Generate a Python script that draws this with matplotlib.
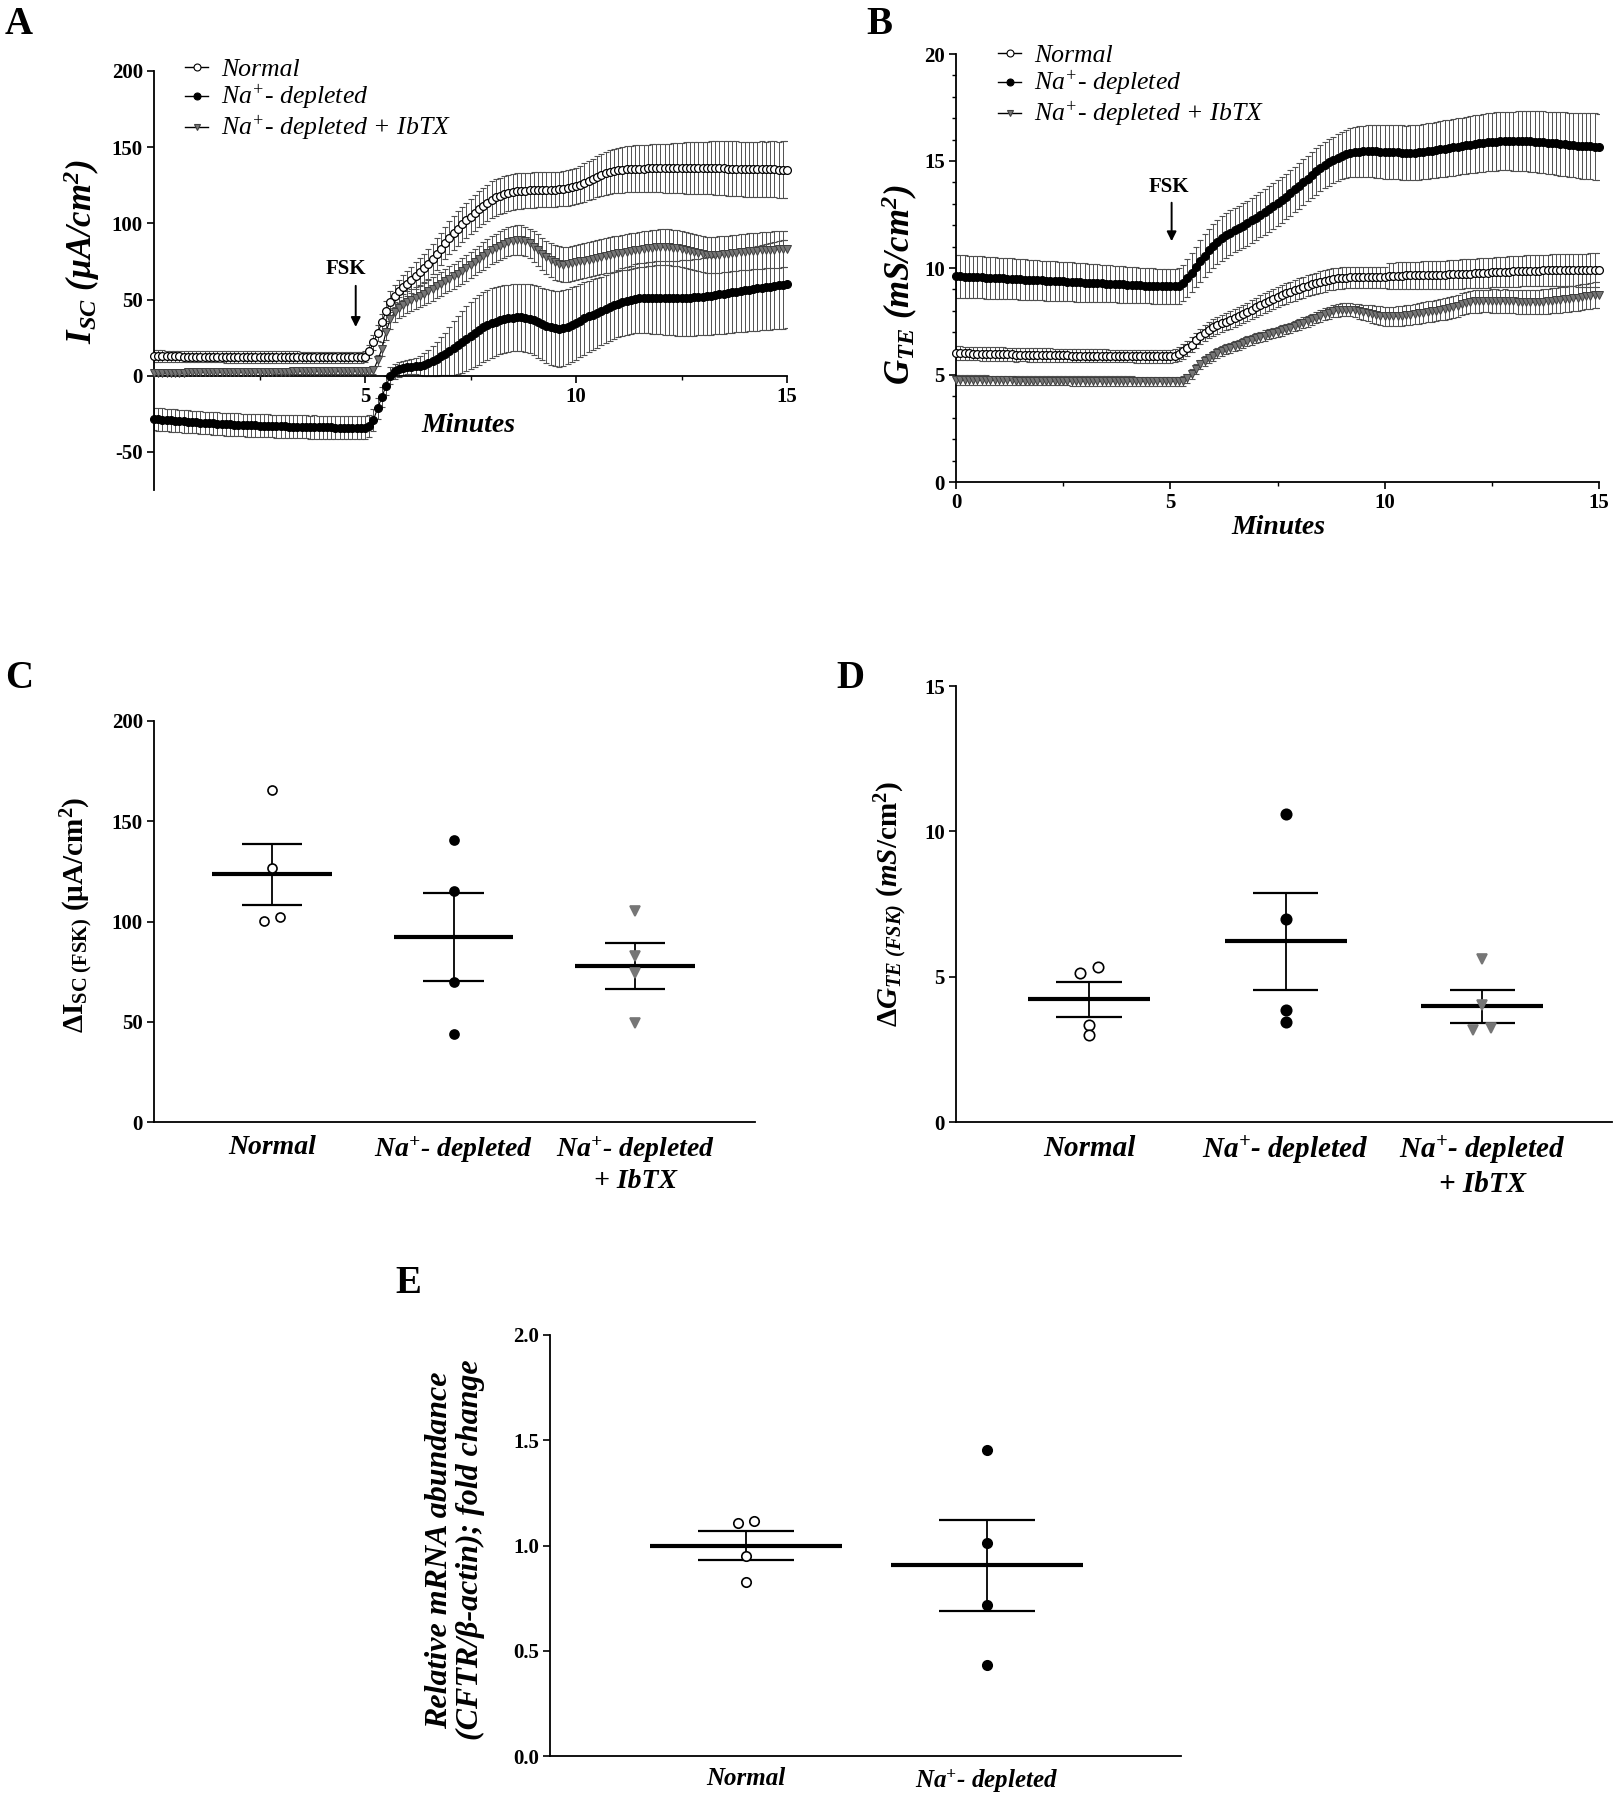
import numpy as np
import matplotlib
matplotlib.use('Agg')
import matplotlib.pyplot as plt
from matplotlib.lines import Line2D

plt.rcParams.update({
    'font.family': ['Liberation Serif', 'DejaVu Serif'],
    'mathtext.fontset': 'custom',
    'mathtext.rm': 'Liberation Serif',
    'mathtext.it': 'Liberation Serif:italic',
    'mathtext.bf': 'Liberation Serif:bold',
    'mathtext.bfit': 'Liberation Serif:italic:bold',
    'mathtext.default': 'regular',
    'axes.linewidth': 1.2,
    'axes.unicode_minus': False,
})

# ---------------- data: time courses (one value every 0.1 min, 0..15 min) ----------------
minutes = np.arange(151) / 10.0
series_names = ['Normal', 'Na$^{+}$- depleted', 'Na$^{+}$- depleted + IbTX']

# Panel A: Isc (uA/cm2)
isc_normal = [
    12.8, 12.8, 12.8, 12.7, 12.7, 12.7, 12.7, 12.6, 12.6, 12.6,
    12.6, 12.6, 12.5, 12.5, 12.5, 12.5, 12.5, 12.4, 12.4, 12.4,
    12.4, 12.4, 12.4, 12.3, 12.3, 12.3, 12.3, 12.3, 12.3, 12.2,
    12.2, 12.2, 12.2, 12.2, 12.2, 12.1, 12.1, 12.1, 12.1, 12.1,
    12.1, 12.1, 12.0, 12.0, 12.0, 12.0, 12.0, 12.0, 12.0, 12.0,
    12.5, 16.0, 22.0, 28.0, 35.0, 42.5, 48.5, 52.5, 55.5, 58.0,
    60.5, 63.0, 65.5, 68.0, 70.5, 73.5, 76.5, 80.0, 83.5, 87.0,
    90.5, 93.5, 96.5, 99.5, 102.0, 104.5, 107.0, 109.5, 111.5, 113.5,
    115.5, 117.0, 118.0, 119.0, 120.0, 120.5, 121.0, 121.3, 121.5, 121.7,
    122.0, 122.0, 122.0, 122.0, 122.0, 122.2, 122.5, 122.8, 123.2, 123.8,
    124.5, 125.5, 126.8, 128.0, 129.3, 130.5, 131.7, 132.8, 133.6, 134.3,
    134.8, 135.2, 135.5, 135.7, 135.9, 136.0, 136.0, 136.1, 136.1, 136.1,
    136.2, 136.2, 136.2, 136.3, 136.3, 136.4, 136.4, 136.5, 136.5, 136.5,
    136.5, 136.4, 136.4, 136.3, 136.2, 136.1, 136.0, 135.9, 135.8, 135.7,
    135.6, 135.6, 135.5, 135.5, 135.5, 135.4, 135.4, 135.4, 135.3, 135.3,
    135.3]
isc_normal_sem = [
    3.8, 3.8, 3.8, 3.8, 3.8, 3.8, 3.8, 3.8, 3.8, 3.8,
    3.8, 3.8, 3.8, 3.8, 3.8, 3.8, 3.8, 3.8, 3.8, 3.8,
    3.8, 3.8, 3.8, 3.8, 3.8, 3.8, 3.8, 3.8, 3.8, 3.8,
    3.8, 3.8, 3.8, 3.8, 3.8, 3.8, 3.8, 3.8, 3.8, 3.8,
    3.8, 3.8, 3.8, 3.8, 3.8, 3.8, 3.8, 3.8, 3.8, 3.8,
    3.8, 4.2, 4.8, 5.3, 5.8, 6.3, 6.8, 7.2, 7.6, 8.0,
    8.3, 8.6, 8.9, 9.2, 9.5, 9.8, 10.0, 10.3, 10.5, 10.7,
    10.9, 11.1, 11.3, 11.5, 11.6, 11.7, 11.8, 11.9, 12.0, 12.0,
    12.0, 12.0, 12.0, 11.9, 11.9, 11.8, 11.8, 11.7, 11.7, 11.6,
    11.6, 11.5, 11.5, 11.4, 11.4, 11.4, 11.4, 11.5, 11.6, 11.8,
    12.0, 12.3, 12.6, 12.9, 13.2, 13.5, 13.8, 14.1, 14.4, 14.6,
    14.8, 15.0, 15.1, 15.2, 15.3, 15.4, 15.5, 15.6, 15.7, 15.8,
    15.9, 16.0, 16.2, 16.3, 16.5, 16.6, 16.8, 16.9, 17.0, 17.1,
    17.2, 17.3, 17.4, 17.5, 17.6, 17.7, 17.8, 17.9, 18.0, 18.0,
    18.1, 18.1, 18.2, 18.2, 18.3, 18.3, 18.4, 18.4, 18.4, 18.5,
    18.5]
isc_nadep = [
    -28.5, -28.7, -28.9, -29.1, -29.3, -29.5, -29.7, -29.9, -30.1, -30.3,
    -30.5, -30.7, -30.9, -31.1, -31.3, -31.5, -31.7, -31.9, -32.0, -32.1,
    -32.2, -32.3, -32.4, -32.5, -32.6, -32.7, -32.8, -32.9, -33.0, -33.1,
    -33.2, -33.3, -33.4, -33.5, -33.5, -33.6, -33.6, -33.7, -33.7, -33.8,
    -33.8, -33.9, -33.9, -34.0, -34.0, -34.1, -34.1, -34.2, -34.2, -34.2,
    -34.0, -33.0, -28.8, -21.5, -14.0, -6.5, 0.0, 2.8, 4.2, 5.0,
    5.7, 6.0, 6.3, 6.7, 7.3, 8.6, 9.8, 11.2, 12.8, 14.5,
    16.3, 18.2, 20.2, 22.2, 24.2, 26.2, 28.2, 30.0, 31.8, 33.3,
    34.5, 35.5, 36.4, 37.1, 37.6, 38.0, 38.3, 38.3, 38.0, 37.4,
    36.5, 35.3, 34.0, 32.8, 31.8, 31.0, 30.6, 31.2, 32.2, 33.5,
    34.8, 36.2, 37.6, 38.9, 40.1, 41.3, 42.6, 43.9, 45.1, 46.3,
    47.4, 48.4, 49.2, 49.9, 50.5, 50.9, 51.2, 51.3, 51.3, 51.2,
    51.2, 51.1, 51.1, 51.0, 51.0, 51.0, 51.1, 51.2, 51.4, 51.6,
    51.9, 52.2, 52.6, 53.0, 53.4, 53.8, 54.3, 54.7, 55.2, 55.7,
    56.1, 56.5, 56.9, 57.3, 57.7, 58.1, 58.5, 59.0, 59.4, 59.8,
    60.3]
isc_nadep_sem = [
    7.4, 7.4, 7.4, 7.4, 7.4, 7.4, 7.4, 7.4, 7.4, 7.4,
    7.4, 7.4, 7.4, 7.4, 7.4, 7.5, 7.5, 7.5, 7.5, 7.5,
    7.5, 7.5, 7.5, 7.5, 7.5, 7.5, 7.5, 7.5, 7.5, 7.5,
    7.5, 7.5, 7.5, 7.5, 7.5, 7.5, 7.5, 7.5, 7.6, 7.6,
    7.6, 7.6, 7.6, 7.6, 7.6, 7.6, 7.6, 7.6, 7.6, 7.6,
    7.6, 7.5, 7.2, 6.8, 6.4, 6.0, 5.6, 5.2, 4.9, 4.7,
    4.6, 4.8, 5.4, 6.3, 7.4, 8.6, 9.9, 11.2, 12.5, 13.8,
    16.0, 17.5, 19.0, 20.3, 21.3, 22.0, 22.5, 22.8, 22.9, 22.9,
    22.8, 22.6, 22.4, 22.2, 22.0, 21.9, 21.9, 22.0, 22.3, 22.6,
    23.0, 23.4, 23.8, 24.2, 24.5, 24.7, 24.8, 24.8, 24.7, 24.5,
    24.3, 24.0, 23.7, 23.4, 23.1, 22.8, 22.5, 22.3, 22.1, 22.0,
    22.0, 22.1, 22.2, 22.4, 22.6, 22.8, 23.0, 23.3, 23.6, 23.9,
    24.1, 24.3, 24.4, 24.5, 24.6, 24.7, 24.8, 24.9, 25.0, 25.1,
    25.2, 25.4, 25.6, 25.8, 26.0, 26.2, 26.4, 26.6, 26.8, 27.0,
    27.2, 27.4, 27.6, 27.8, 28.0, 28.2, 28.4, 28.6, 28.8, 29.0,
    29.1]
isc_ibtx = [
    2.0, 2.0, 2.0, 2.0, 2.1, 2.1, 2.1, 2.1, 2.2, 2.2,
    2.2, 2.2, 2.2, 2.3, 2.3, 2.3, 2.3, 2.4, 2.4, 2.4,
    2.4, 2.5, 2.5, 2.5, 2.5, 2.6, 2.6, 2.6, 2.6, 2.7,
    2.7, 2.7, 2.7, 2.8, 2.8, 2.8, 2.8, 2.9, 2.9, 2.9,
    2.9, 3.0, 3.0, 3.0, 3.0, 3.1, 3.1, 3.1, 3.2, 3.2,
    3.2, 3.3, 3.8, 10.0, 17.5, 29.0, 37.0, 41.8, 44.5, 46.5,
    48.2, 49.6, 51.0, 52.4, 53.8, 55.4, 57.0, 58.7, 60.4, 62.0,
    63.6, 65.2, 66.9, 68.7, 70.6, 72.6, 74.6, 76.6, 78.6, 80.6,
    82.4, 84.0, 85.4, 86.7, 87.8, 88.6, 89.0, 89.0, 88.2, 86.8,
    84.8, 82.4, 80.0, 77.8, 75.9, 74.4, 73.4, 73.0, 73.1, 73.7,
    74.4, 75.0, 75.6, 76.2, 76.8, 77.4, 78.0, 78.6, 79.2, 79.8,
    80.3, 80.8, 81.3, 81.8, 82.3, 82.8, 83.2, 83.6, 83.9, 84.2,
    84.3, 84.4, 84.3, 84.0, 83.6, 83.0, 82.3, 81.6, 81.0, 80.4,
    79.9, 79.5, 79.3, 79.3, 79.5, 79.8, 80.1, 80.4, 80.7, 81.0,
    81.3, 81.6, 81.8, 82.0, 82.2, 82.4, 82.6, 82.8, 83.0, 83.1,
    83.2]
isc_ibtx_sem = [
    1.8, 1.8, 1.8, 1.8, 1.8, 1.8, 1.8, 1.8, 1.8, 1.8,
    1.8, 1.8, 1.8, 1.8, 1.8, 1.8, 1.8, 1.8, 1.8, 1.8,
    1.8, 1.8, 1.8, 1.8, 1.8, 1.8, 1.8, 1.8, 1.8, 1.8,
    1.8, 1.8, 1.8, 1.8, 1.8, 1.8, 1.8, 1.8, 1.8, 1.8,
    1.8, 1.8, 1.8, 1.8, 1.8, 1.8, 1.8, 1.8, 1.9, 1.9,
    1.9, 2.0, 2.5, 3.5, 4.5, 5.5, 6.2, 6.6, 6.9, 7.0,
    7.1, 7.2, 7.3, 7.4, 7.5, 7.6, 7.7, 7.8, 7.9, 8.0,
    8.1, 8.2, 8.3, 8.4, 8.5, 8.6, 8.7, 8.8, 8.9, 9.0,
    9.1, 9.2, 9.3, 9.4, 9.5, 9.5, 9.6, 9.6, 9.7, 9.8,
    10.0, 10.3, 10.6, 10.9, 11.2, 11.4, 11.5, 11.5, 11.5, 11.5,
    11.5, 11.5, 11.5, 11.5, 11.5, 11.5, 11.5, 11.5, 11.6, 11.6,
    11.6, 11.6, 11.6, 11.6, 11.6, 11.6, 11.7, 11.7, 11.7, 11.7,
    11.7, 11.7, 11.7, 11.7, 11.8, 11.8, 11.8, 11.8, 11.8, 11.8,
    11.8, 11.8, 11.8, 11.9, 11.9, 11.9, 11.9, 11.9, 11.9, 11.9,
    11.9, 11.9, 12.0, 12.0, 12.0, 12.0, 12.0, 12.0, 12.0, 12.0,
    12.0]

# Panel B: GTE (mS/cm2)
gte_normal = [
    6.02, 6.02, 6.01, 6.01, 6.00, 6.00, 5.99, 5.99, 5.98, 5.98,
    5.97, 5.97, 5.96, 5.96, 5.95, 5.95, 5.95, 5.94, 5.94, 5.94,
    5.93, 5.93, 5.93, 5.92, 5.92, 5.92, 5.92, 5.91, 5.91, 5.91,
    5.91, 5.90, 5.90, 5.90, 5.90, 5.90, 5.89, 5.89, 5.89, 5.89,
    5.89, 5.89, 5.88, 5.88, 5.88, 5.88, 5.88, 5.88, 5.88, 5.88,
    5.88, 5.90, 5.98, 6.10, 6.25, 6.42, 6.62, 6.80, 6.96, 7.10,
    7.22, 7.32, 7.41, 7.50, 7.58, 7.67, 7.76, 7.85, 7.95, 8.05,
    8.16, 8.27, 8.37, 8.47, 8.56, 8.65, 8.73, 8.81, 8.88, 8.95,
    9.03, 9.10, 9.17, 9.23, 9.29, 9.35, 9.40, 9.45, 9.49, 9.52,
    9.54, 9.55, 9.56, 9.56, 9.56, 9.56, 9.56, 9.56, 9.56, 9.56,
    9.57, 9.62, 9.63, 9.64, 9.64, 9.65, 9.65, 9.66, 9.66, 9.67,
    9.67, 9.68, 9.68, 9.69, 9.69, 9.70, 9.70, 9.71, 9.72, 9.73,
    9.74, 9.75, 9.76, 9.77, 9.78, 9.79, 9.80, 9.81, 9.82, 9.83,
    9.84, 9.85, 9.86, 9.87, 9.87, 9.88, 9.88, 9.89, 9.89, 9.89,
    9.89, 9.90, 9.90, 9.90, 9.90, 9.90, 9.90, 9.90, 9.90, 9.90,
    9.90]
gte_normal_sem = [
    0.32, 0.32, 0.32, 0.32, 0.32, 0.32, 0.32, 0.32, 0.32, 0.32,
    0.32, 0.32, 0.32, 0.32, 0.32, 0.31, 0.31, 0.31, 0.31, 0.31,
    0.31, 0.31, 0.31, 0.31, 0.31, 0.31, 0.31, 0.31, 0.31, 0.31,
    0.31, 0.31, 0.31, 0.30, 0.30, 0.30, 0.30, 0.30, 0.30, 0.30,
    0.30, 0.30, 0.30, 0.30, 0.30, 0.30, 0.30, 0.30, 0.30, 0.30,
    0.30, 0.31, 0.32, 0.33, 0.34, 0.35, 0.36, 0.37, 0.38, 0.38,
    0.39, 0.40, 0.40, 0.41, 0.41, 0.42, 0.42, 0.43, 0.43, 0.44,
    0.44, 0.45, 0.45, 0.46, 0.46, 0.47, 0.47, 0.47, 0.48, 0.48,
    0.48, 0.49, 0.49, 0.49, 0.49, 0.50, 0.50, 0.50, 0.50, 0.50,
    0.50, 0.50, 0.50, 0.50, 0.50, 0.50, 0.50, 0.50, 0.50, 0.50,
    0.50, 0.62, 0.62, 0.63, 0.63, 0.63, 0.64, 0.64, 0.64, 0.65,
    0.65, 0.65, 0.66, 0.66, 0.66, 0.67, 0.67, 0.67, 0.68, 0.68,
    0.68, 0.69, 0.69, 0.69, 0.70, 0.70, 0.70, 0.71, 0.71, 0.71,
    0.72, 0.72, 0.72, 0.73, 0.73, 0.73, 0.74, 0.74, 0.74, 0.75,
    0.75, 0.75, 0.76, 0.76, 0.76, 0.77, 0.77, 0.77, 0.78, 0.78,
    0.78]
gte_nadep = [
    9.62, 9.61, 9.60, 9.59, 9.58, 9.57, 9.56, 9.55, 9.54, 9.53,
    9.52, 9.51, 9.50, 9.49, 9.48, 9.47, 9.46, 9.45, 9.44, 9.43,
    9.42, 9.41, 9.40, 9.39, 9.38, 9.37, 9.36, 9.35, 9.34, 9.33,
    9.32, 9.31, 9.30, 9.29, 9.28, 9.27, 9.26, 9.25, 9.24, 9.23,
    9.22, 9.21, 9.20, 9.19, 9.18, 9.17, 9.16, 9.15, 9.15, 9.14,
    9.14, 9.14, 9.16, 9.30, 9.52, 9.78, 10.05, 10.32, 10.58, 10.82,
    11.04, 11.22, 11.38, 11.52, 11.65, 11.77, 11.88, 11.98, 12.10, 12.22,
    12.35, 12.48, 12.61, 12.75, 12.89, 13.03, 13.18, 13.34, 13.50, 13.67,
    13.84, 14.01, 14.18, 14.35, 14.51, 14.66, 14.80, 14.93, 15.05, 15.16,
    15.25, 15.32, 15.38, 15.42, 15.44, 15.45, 15.46, 15.46, 15.45, 15.44,
    15.43, 15.42, 15.41, 15.40, 15.39, 15.38, 15.38, 15.39, 15.41, 15.43,
    15.46, 15.49, 15.52, 15.55, 15.58, 15.61, 15.64, 15.67, 15.70, 15.73,
    15.76, 15.79, 15.82, 15.85, 15.87, 15.89, 15.91, 15.92, 15.93, 15.93,
    15.93, 15.93, 15.93, 15.93, 15.92, 15.91, 15.90, 15.88, 15.86, 15.84,
    15.82, 15.80, 15.78, 15.76, 15.74, 15.72, 15.70, 15.69, 15.68, 15.67,
    15.66]
gte_nadep_sem = [
    1.00, 1.00, 0.99, 0.99, 0.99, 0.98, 0.98, 0.98, 0.97, 0.97,
    0.97, 0.96, 0.96, 0.96, 0.95, 0.95, 0.95, 0.94, 0.94, 0.94,
    0.93, 0.93, 0.93, 0.92, 0.92, 0.92, 0.91, 0.91, 0.91, 0.90,
    0.90, 0.89, 0.89, 0.88, 0.88, 0.87, 0.87, 0.86, 0.86, 0.85,
    0.85, 0.84, 0.84, 0.83, 0.83, 0.82, 0.82, 0.81, 0.81, 0.80,
    0.80, 0.80, 0.82, 0.85, 0.88, 0.92, 0.95, 0.98, 1.00, 1.02,
    1.03, 1.03, 1.03, 1.04, 1.04, 1.04, 1.04, 1.05, 1.05, 1.05,
    1.05, 1.05, 1.06, 1.06, 1.06, 1.06, 1.06, 1.07, 1.07, 1.07,
    1.07, 1.07, 1.07, 1.08, 1.08, 1.08, 1.08, 1.08, 1.08, 1.08,
    1.10, 1.12, 1.15, 1.17, 1.19, 1.20, 1.21, 1.22, 1.23, 1.24,
    1.25, 1.25, 1.26, 1.26, 1.27, 1.27, 1.28, 1.28, 1.29, 1.29,
    1.30, 1.30, 1.31, 1.31, 1.32, 1.32, 1.33, 1.33, 1.33, 1.34,
    1.34, 1.34, 1.35, 1.35, 1.35, 1.36, 1.36, 1.36, 1.37, 1.37,
    1.38, 1.39, 1.40, 1.41, 1.42, 1.43, 1.44, 1.44, 1.45, 1.46,
    1.47, 1.48, 1.49, 1.50, 1.51, 1.51, 1.52, 1.53, 1.54, 1.55,
    1.55]
gte_ibtx = [
    4.77, 4.77, 4.77, 4.76, 4.76, 4.76, 4.76, 4.76, 4.75, 4.75,
    4.75, 4.75, 4.75, 4.75, 4.74, 4.74, 4.74, 4.74, 4.74, 4.74,
    4.73, 4.73, 4.73, 4.73, 4.73, 4.73, 4.73, 4.72, 4.72, 4.72,
    4.72, 4.72, 4.72, 4.72, 4.71, 4.71, 4.71, 4.71, 4.71, 4.71,
    4.71, 4.71, 4.70, 4.70, 4.70, 4.70, 4.70, 4.70, 4.70, 4.70,
    4.70, 4.70, 4.70, 4.72, 4.85, 5.05, 5.28, 5.50, 5.65, 5.78,
    5.90, 6.02, 6.12, 6.20, 6.27, 6.35, 6.42, 6.50, 6.57, 6.65,
    6.72, 6.78, 6.84, 6.90, 6.96, 7.02, 7.08, 7.14, 7.21, 7.28,
    7.36, 7.44, 7.52, 7.60, 7.68, 7.76, 7.84, 7.92, 7.98, 8.02,
    8.05, 8.06, 8.05, 8.02, 7.98, 7.93, 7.89, 7.85, 7.81, 7.77,
    7.75, 7.74, 7.74, 7.75, 7.77, 7.79, 7.81, 7.84, 7.88, 7.92,
    7.95, 7.98, 8.01, 8.05, 8.09, 8.13, 8.18, 8.24, 8.30, 8.36,
    8.42, 8.44, 8.45, 8.46, 8.46, 8.46, 8.46, 8.45, 8.45, 8.44,
    8.44, 8.43, 8.42, 8.41, 8.40, 8.40, 8.41, 8.43, 8.45, 8.47,
    8.49, 8.51, 8.53, 8.55, 8.58, 8.61, 8.64, 8.67, 8.70, 8.73,
    8.75]
gte_ibtx_sem = [
    0.22, 0.22, 0.22, 0.22, 0.22, 0.22, 0.22, 0.22, 0.22, 0.22,
    0.22, 0.22, 0.22, 0.22, 0.22, 0.22, 0.22, 0.22, 0.22, 0.22,
    0.22, 0.22, 0.22, 0.22, 0.22, 0.22, 0.22, 0.22, 0.22, 0.22,
    0.22, 0.22, 0.22, 0.22, 0.22, 0.22, 0.22, 0.22, 0.22, 0.22,
    0.22, 0.22, 0.22, 0.22, 0.22, 0.22, 0.22, 0.22, 0.22, 0.22,
    0.22, 0.22, 0.22, 0.22, 0.22, 0.22, 0.22, 0.22, 0.22, 0.22,
    0.23, 0.23, 0.23, 0.23, 0.23, 0.23, 0.23, 0.23, 0.23, 0.23,
    0.24, 0.24, 0.24, 0.24, 0.24, 0.24, 0.24, 0.24, 0.24, 0.24,
    0.25, 0.25, 0.26, 0.26, 0.27, 0.27, 0.28, 0.28, 0.29, 0.29,
    0.30, 0.30, 0.31, 0.32, 0.34, 0.36, 0.38, 0.40, 0.42, 0.44,
    0.45, 0.45, 0.46, 0.46, 0.47, 0.47, 0.47, 0.48, 0.48, 0.48,
    0.49, 0.49, 0.49, 0.50, 0.50, 0.50, 0.51, 0.51, 0.51, 0.52,
    0.52, 0.52, 0.53, 0.53, 0.53, 0.54, 0.54, 0.54, 0.55, 0.55,
    0.55, 0.56, 0.56, 0.56, 0.57, 0.57, 0.57, 0.58, 0.58, 0.58,
    0.58, 0.59, 0.59, 0.59, 0.59, 0.60, 0.60, 0.60, 0.60, 0.60,
    0.60]

# ---------------- data: individual experiments ----------------
group_labels3 = ['Normal', 'Na$^{+}$- depleted', 'Na$^{+}$- depleted\n+ IbTX']
group_labels2 = ['Normal', 'Na$^{+}$- depleted']

# Panel C: delta Isc(FSK)
c_normal = [165.4, 126.6, 102.4, 100.4]
c_nadep = [140.5, 115.3, 69.9, 43.9]
c_ibtx = [105.2, 82.9, 74.3, 49.6]
c_mean = [123.5, 92.3, 77.7]
c_sem = [15.2, 21.8, 11.4]

# Panel D: delta GTE(FSK)
d_normal = [5.14, 5.33, 3.34, 3.01]
d_nadep = [10.60, 6.97, 3.85, 3.44]
d_ibtx = [5.62, 4.03, 3.16, 3.23]
d_mean = [4.22, 6.21, 3.98]
d_sem = [0.61, 1.67, 0.57]

# Panel E: relative CFTR mRNA
e_normal = [1.108, 1.118, 0.951, 0.825]
e_nadep = [1.456, 1.010, 0.716, 0.433]
e_mean = [1.000, 0.905]
e_sem = [0.070, 0.218]

# horizontal spread of overlapping dots (category units)
c_jitter = [[0, 0, 0.045, -0.045], [0, 0, 0, 0], [0, 0, 0, 0]]
d_jitter = [[-0.045, 0.045, 0, 0], [0, 0, 0, 0], [0, 0, -0.045, 0.045]]
e_jitter = [[-0.035, 0.035, 0, 0], [0, 0, 0, 0]]

# ---------------- styles ----------------
GRAY = '#767676'
styles = [
    dict(marker='o', mfc='white', mec='black', ms=5.6, mew=0.9),
    dict(marker='o', mfc='black', mec='black', ms=5.6, mew=0.9),
    dict(marker='v', mfc=GRAY, mec='#3f3f3f', ms=6.4, mew=0.7),
]

W, H = 1616, 1800
fig = plt.figure(figsize=(W / 100, H / 100), dpi=100)


def add_axes(l, r, t, b):
    return fig.add_axes([l / W, 1 - b / H, (r - l) / W, (b - t) / H])


def style_axes(ax):
    for s in ['top', 'right']:
        ax.spines[s].set_visible(False)
    for s in ['left', 'bottom']:
        ax.spines[s].set_linewidth(1.3)
    ax.tick_params(which='major', length=5, width=1.2, labelsize=15, pad=3)
    ax.tick_params(which='minor', length=3, width=1.0)
    for lab in ax.get_xticklabels() + ax.get_yticklabels():
        lab.set_fontweight('bold')


def time_panel(ax, t, means, sems):
    order = [1, 2, 0]
    for k in order:
        ax.errorbar(t, means[k], yerr=sems[k], fmt='none', ecolor='#505050',
                    elinewidth=0.7, capsize=2.4, capthick=0.8, zorder=2)
    for k in order:
        ax.plot(t, means[k], color='black', lw=0.8, zorder=3,
                clip_on=False, **styles[k])


def legend(ax, x, y):
    handles = [Line2D([0], [0], color='black', lw=1.0,
                      marker=st['marker'], mfc=st['mfc'], mec=st['mec'],
                      ms=5, mew=0.8) for st in styles]
    ax.legend(handles, series_names, loc='upper left',
              bbox_to_anchor=(x / W, 1 - y / H), bbox_transform=fig.transFigure,
              frameon=False, prop=dict(style='italic', size=18.5),
              handlelength=0.9, handletextpad=0.5, labelspacing=0.08,
              borderpad=0, borderaxespad=0)


# ---------------- Panel A ----------------
axA = add_axes(154, 787, 71, 490)
time_panel(axA, minutes, [isc_normal, isc_nadep, isc_ibtx],
           [isc_normal_sem, isc_nadep_sem, isc_ibtx_sem])
axA.set_xlim(0, 15)
axA.set_ylim(-75, 200)
axA.spines['bottom'].set_position(('data', 0))
axA.set_xticks([5, 10, 15])
axA.set_xticks([2.5, 7.5, 12.5], minor=True)
axA.set_yticks([-50, 0, 50, 100, 150, 200])
style_axes(axA)
axA.text(7.44, -32.7, 'Minutes', ha='center', va='center', fontsize=20,
         fontweight='bold', style='italic')
axA.annotate('', xy=(4.78, 32), xytext=(4.78, 59),
             arrowprops=dict(arrowstyle='-|>', lw=1.4, color='black',
                             mutation_scale=14, shrinkA=0, shrinkB=0))
axA.text(4.55, 70, 'FSK', ha='center', va='center', fontsize=15, fontweight='bold')
legend(axA, 185, 58)

# ---------------- Panel B ----------------
axB = add_axes(956, 1599, 54, 482)
time_panel(axB, minutes, [gte_normal, gte_nadep, gte_ibtx],
           [gte_normal_sem, gte_nadep_sem, gte_ibtx_sem])
axB.set_xlim(0, 15)
axB.set_ylim(0, 20)
axB.set_xticks([0, 5, 10, 15])
axB.set_xticks([2.5, 7.5, 12.5], minor=True)
axB.set_yticks([0, 5, 10, 15, 20])
axB.set_yticks(np.arange(0, 21, 1), minor=True)
style_axes(axB)
axB.annotate('', xy=(5.03, 11.25), xytext=(5.03, 13.05),
             arrowprops=dict(arrowstyle='-|>', lw=1.4, color='black',
                             mutation_scale=14, shrinkA=0, shrinkB=0))
axB.text(4.96, 13.8, 'FSK', ha='center', va='center', fontsize=15, fontweight='bold')
legend(axB, 998, 44)


# ---------------- dot plots ----------------
def dot_panel(ax, groups, jitter, means, sems, halfw, capw, ms):
    for i, vals in enumerate(groups):
        st = styles[i]
        xs = [i + j for j in jitter[i]]
        ax.plot(xs, vals, ls='none', marker=st['marker'], mfc=st['mfc'],
                mec=st['mec'] if i != 2 else GRAY, ms=ms, mew=1.2, zorder=3)
        ax.hlines(means[i], i - halfw, i + halfw, color='black', lw=3.0, zorder=2)
        ax.vlines(i, means[i] - sems[i], means[i] + sems[i], color='black', lw=1.3, zorder=2)
        ax.hlines([means[i] - sems[i], means[i] + sems[i]], i - capw, i + capw,
                  color='black', lw=1.6, zorder=2)
    ax.tick_params(axis='x', length=0)


def cat_labels(ax, size, pad):
    ax.tick_params(axis='x', length=0, pad=pad)
    for lab in ax.get_xticklabels():
        lab.set_fontsize(size)
        lab.set_style('italic')
        lab.set_fontweight('bold')


axC = add_axes(154, 755, 721, 1122)
dot_panel(axC, [c_normal, c_nadep, c_ibtx], c_jitter, c_mean, c_sem, 0.33, 0.167, 6.5)
axC.set_xlim(-0.650, 2.661)
axC.set_ylim(0, 200)
axC.set_yticks([0, 50, 100, 150, 200])
axC.set_xticks(range(3))
axC.set_xticklabels(group_labels3)
style_axes(axC)
cat_labels(axC, 20, 9)

axD = add_axes(956, 1612, 686, 1122)
dot_panel(axD, [d_normal, d_nadep, d_ibtx], d_jitter, d_mean, d_sem, 0.31, 0.166, 7.5)
axD.set_xlim(-0.677, 2.66)
axD.set_ylim(0, 15)
axD.set_yticks([0, 5, 10, 15])
axD.set_xticks(range(3))
axD.set_xticklabels(group_labels3)
style_axes(axD)
cat_labels(axD, 21, 9)

axE = add_axes(550, 1181, 1335, 1756)
dot_panel(axE, [e_normal, e_nadep], e_jitter, e_mean, e_sem, 0.40, 0.20, 6.8)
axE.set_xlim(-0.813, 1.805)
axE.set_ylim(0, 2.0)
axE.set_yticks([0, 0.5, 1.0, 1.5, 2.0])
axE.set_yticklabels(['0.0', '0.5', '1.0', '1.5', '2.0'])
axE.set_xticks(range(2))
axE.set_xticklabels(group_labels2)
style_axes(axE)
cat_labels(axE, 18, 8)


# ---------------- axis titles ----------------
def ftext(x, y, s, **kw):
    fig.text(x / W, 1 - y / H, s, **kw)


ftext(82, 252, 'I$_{SC}$ (\u00b5A/cm$^{2}$)', rotation=90, ha='center', va='center',
      fontsize=25, fontweight='bold', style='italic')
ftext(1278, 528, 'Minutes', ha='center', va='center', fontsize=20,
      fontweight='bold', style='italic')
ftext(900, 285, 'G$_{TE}$ (mS/cm$^{2}$)', rotation=90, ha='center', va='center',
      fontsize=25, fontweight='bold', style='italic')
ftext(77, 915, '\u0394I$_{SC\\ (FSK)}$ (\u00b5A/cm$^{2}$)', rotation=90, ha='center',
      va='center', fontsize=21, fontweight='bold')
ftext(891, 904, '\u0394$\\mathbfit{G}_{\\mathbfit{TE\\ (FSK)}}$ ($\\mathbfit{mS}$/cm$^{2}$)',
      rotation=90, ha='center', va='center', fontsize=21, fontweight='bold')
ftext(455, 1550, 'Relative mRNA abundance\n(CFTR/\u03b2-actin); fold change', rotation=90,
      ha='center', va='center', fontsize=23, fontweight='bold', style='italic',
      linespacing=1.05)

# panel letters
for letter, x, y in [('A', 5, 6), ('B', 866, 6), ('C', 5, 660), ('D', 836, 660), ('E', 395, 1265)]:
    ftext(x, y, letter, ha='left', va='top', fontsize=28, fontweight='bold')

fig.savefig('out.png', dpi=100)
